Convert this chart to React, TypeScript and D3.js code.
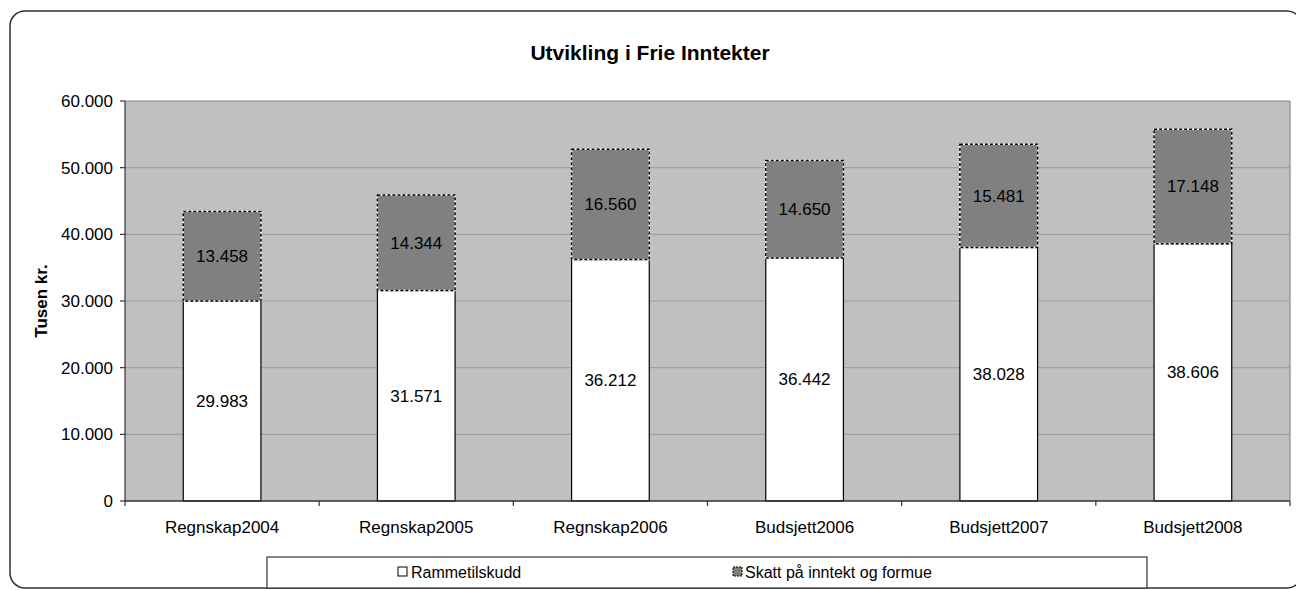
import React from "react";
import * as d3 from "d3";

const categories = ["Regnskap2004", "Regnskap2005", "Regnskap2006", "Budsjett2006", "Budsjett2007", "Budsjett2008"];
const rammetilskudd = [29983, 31571, 36212, 36442, 38028, 38606];
const skatt = [13458, 14344, 16560, 14650, 15481, 17148];
const yTicks = [0, 10000, 20000, 30000, 40000, 50000, 60000];
const seriesNames = ["Rammetilskudd", "Skatt på inntekt og formue"];
const title = "Utvikling i Frie Inntekter";
const yTitle = "Tusen kr.";

const W = 1296;
const H = 590;
const plot = { left: 125, right: 1290, top: 101, bottom: 501 };
const FONT = "'Liberation Sans', Arial, sans-serif";

const fmt = d3
  .formatLocale({ decimal: ",", thousands: ".", grouping: [3], currency: ["", ""] })
  .format(",d");

export default function App() {
  const x = d3
    .scaleBand<string>()
    .domain(categories)
    .range([plot.left, plot.right])
    .paddingInner(0.6)
    .paddingOuter(0.3);
  const y = d3.scaleLinear().domain([0, 60000]).range([plot.bottom, plot.top]);
  const step = x.step();

  return (
    <svg
      width={W}
      height={H}
      style={{ position: "absolute", left: 0, top: 0, background: "#fff" }}
      fontFamily={FONT}
    >
      {/* outer frame */}
      <rect x={10} y={11} width={1292} height={577} rx={15} ry={15} fill="#fff" stroke="#333" strokeWidth={1.5} />

      {/* title */}
      <text x={650} y={60} textAnchor="middle" fontSize={21} fontWeight="bold" fill="#000">
        {title}
      </text>

      {/* plot background */}
      <rect x={plot.left} y={plot.top} width={plot.right - plot.left} height={plot.bottom - plot.top} fill="#C0C0C0" />

      {/* gridlines */}
      {yTicks.filter((t) => t > 0 && t < 60000).map((t) => (
        <line key={"g" + t} x1={plot.left} x2={plot.right} y1={y(t)} y2={y(t)} stroke="#A0A0A0" strokeWidth={1.2} />
      ))}
      {/* plot border top/right */}
      <line x1={plot.left} x2={plot.right} y1={plot.top} y2={plot.top} stroke="#8a8a8a" strokeWidth={1.2} />
      <line x1={plot.right} x2={plot.right} y1={plot.top} y2={plot.bottom} stroke="#8a8a8a" strokeWidth={1.2} />

      {/* bars */}
      {categories.map((c, i) => {
        const bx = x(c)!;
        const bw = x.bandwidth();
        const r = rammetilskudd[i];
        const s = skatt[i];
        const yR = y(r);
        const yS = y(r + s);
        return (
          <g key={c}>
            <rect x={bx} y={yR} width={bw} height={plot.bottom - yR} fill="#fff" stroke="#000" strokeWidth={1.2} />
            <rect x={bx} y={yS} width={bw} height={yR - yS} fill="#808080" stroke="#fff" strokeWidth={1.5} />
            <rect x={bx} y={yS} width={bw} height={yR - yS} fill="none" stroke="#000" strokeWidth={1.5} strokeDasharray="3,2" />
            <text x={bx + bw / 2} y={(yR + plot.bottom) / 2} dy="0.35em" textAnchor="middle" fontSize={17} fill="#000">
              {fmt(r)}
            </text>
            <text x={bx + bw / 2} y={(yS + yR) / 2} dy="0.35em" textAnchor="middle" fontSize={17} fill="#000">
              {fmt(s)}
            </text>
          </g>
        );
      })}

      {/* axes */}
      <line x1={plot.left} x2={plot.left} y1={plot.top} y2={plot.bottom} stroke="#333" strokeWidth={1.2} />
      <line x1={plot.left} x2={plot.right} y1={plot.bottom} y2={plot.bottom} stroke="#333" strokeWidth={1.5} />
      {yTicks.map((t) => (
        <g key={"y" + t}>
          <line x1={plot.left - 5} x2={plot.left} y1={y(t)} y2={y(t)} stroke="#333" strokeWidth={1.2} />
          <text x={plot.left - 12} y={y(t)} dy="0.35em" textAnchor="end" fontSize={17} fill="#000">
            {fmt(t)}
          </text>
        </g>
      ))}
      {d3.range(categories.length + 1).map((i) => {
        const tx = plot.left + step * i;
        return <line key={"xt" + i} x1={tx} x2={tx} y1={plot.bottom} y2={plot.bottom + 5} stroke="#333" strokeWidth={1.2} />;
      })}
      {categories.map((c) => (
        <text key={"xl" + c} x={x(c)! + x.bandwidth() / 2} y={527} dy="0.35em" textAnchor="middle" fontSize={17} fill="#000">
          {c}
        </text>
      ))}

      {/* y axis title */}
      <text
        transform={`translate(41,${(plot.top + plot.bottom) / 2}) rotate(-90)`}
        textAnchor="middle"
        dy="0.35em"
        fontSize={17}
        fontWeight="bold"
        fill="#000"
      >
        {yTitle}
      </text>

      {/* legend */}
      <rect x={267} y={557} width={880} height={31} fill="#fff" stroke="#333" strokeWidth={1.2} />
      <rect x={398} y={567} width={9} height={9} fill="#fff" stroke="#000" strokeWidth={1} />
      <text x={411} y={572} dy="0.35em" fontSize={16} fill="#000">{seriesNames[0]}</text>
      <rect x={733} y={567} width={9} height={9} fill="#808080" stroke="#000" strokeWidth={1} strokeDasharray="2,1" />
      <text x={745} y={572} dy="0.35em" fontSize={16} fill="#000">{seriesNames[1]}</text>
    </svg>
  );
}
